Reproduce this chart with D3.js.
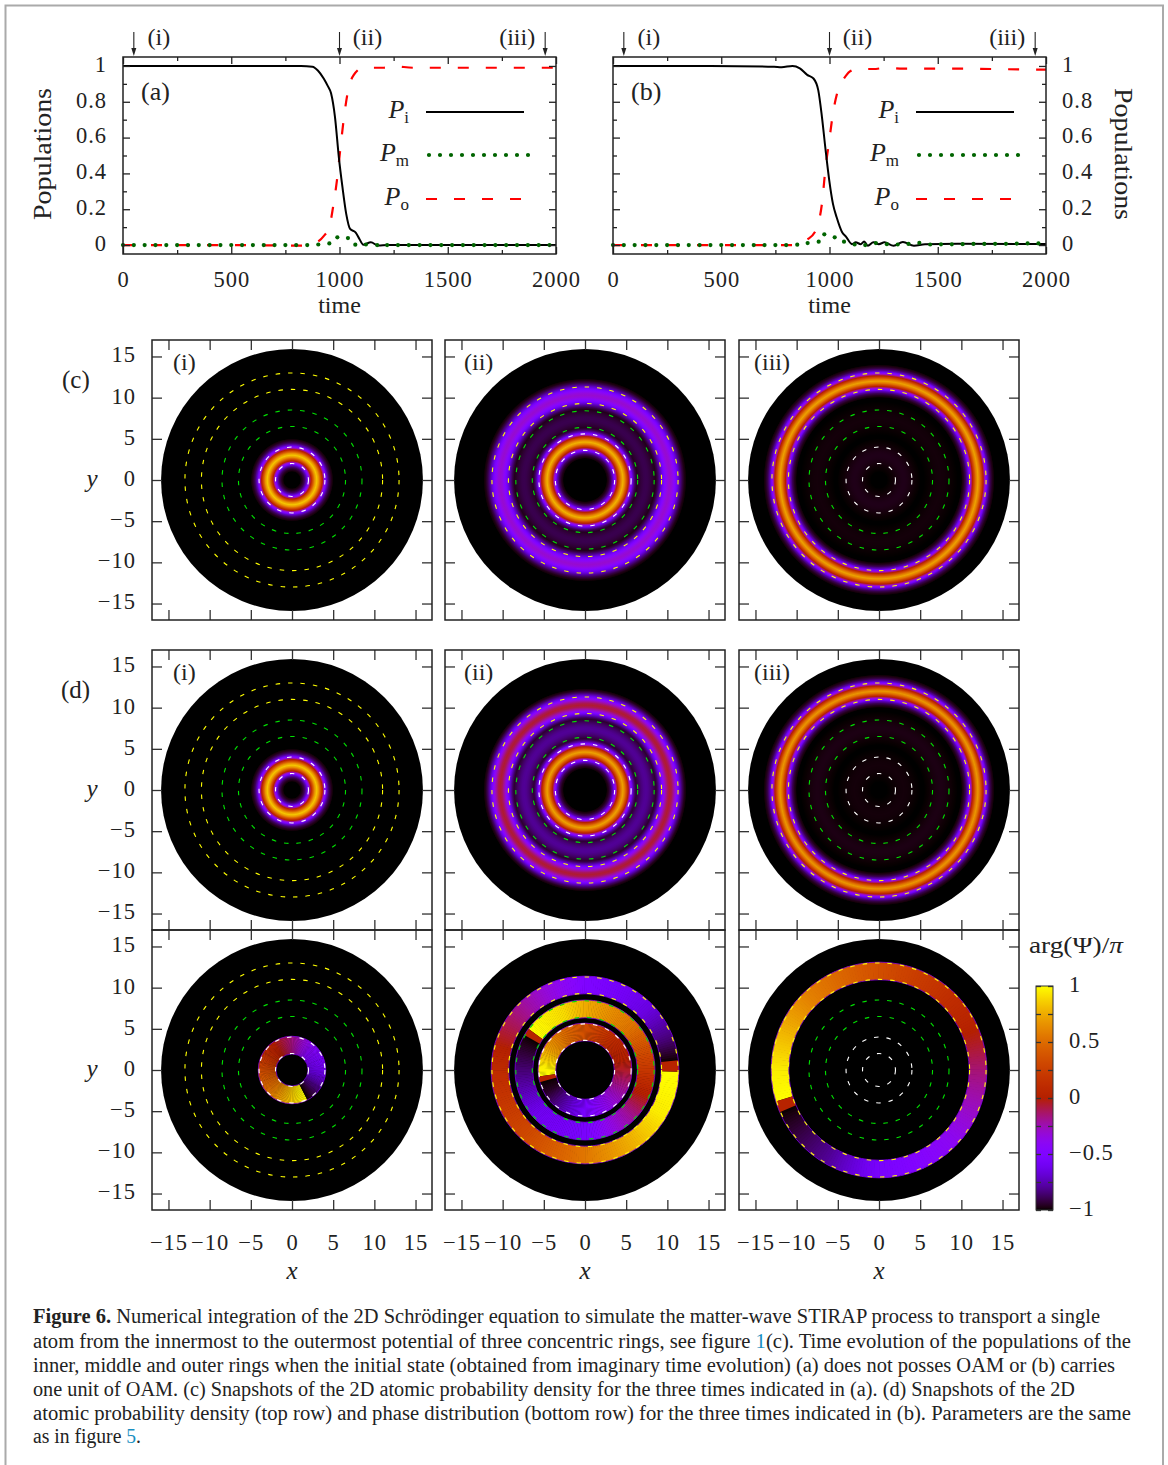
<!DOCTYPE html>
<html>
<head>
<meta charset="utf-8">
<script src="https://cdn.jsdelivr.net/npm/d3@7"></script>
<style>
  body { margin: 0; background: #fff; }
  text { font-family: "Liberation Serif", serif; fill: #222; }
</style>
</head>
<body>
<div id="fig"></div>
<script>
// populations (a) and (b)
const tPiA = [0, 500, 822, 875, 900, 927, 945, 961, 979, 997, 1014, 1031, 1049, 1075, 1092, 1110, 1145, 1179, 1223, 1500, 2000];
const piA = [1, 1, 1, .996, .975, .93, .89, .847, .716, .49, .32, .174, .09, .07, .034, .002, .015, -.003, 0, 0, 0];
const tPoA = [0, 500, 822, 875, 927, 953, 970, 988, 1005, 1023, 1040, 1066, 1110, 1205, 1249, 1345, 2000];
const poA = [0, 0, -.003, .005, .05, .1, .21, .36, .55, .735, .865, .95, .99, .99, .998, .99, .99];
const tPmA = [0, 50, 100, 150, 200, 250, 300, 350, 400, 450, 500, 550, 600, 650, 700, 750, 800, 851, 902, 953, 990, 1039, 1073, 1122, 1174, 1220, 1270, 1320, 1370, 1420, 1470, 1520, 1570, 1620, 1670, 1720, 1770, 1820, 1870, 1920, 1970];
const pmA = [0, 0, 0, 0, 0, 0, 0, 0, 0, 0, 0, 0, 0, 0, 0, 0, 0, 0, .003, .009, .043, .039, .002, .003, 0, 0, 0, 0, 0, 0, 0, 0, 0, 0, 0, 0, 0, 0, 0, 0, 0];

const tPiB = [0, 450, 744, 779, 829, 863, 897, 926, 948, 965, 982, 999, 1016, 1033, 1059, 1076, 1104, 1121, 1144, 1160, 1177, 1203, 1228, 1254, 1296, 1339, 1390, 1441, 1593, 2000];
const piB = [1, 1, .995, .993, 1, .987, .95, .93, .865, .716, .53, .36, .23, .155, .07, .047, .005, .015, .005, .02, -.004, .015, .005, .015, -.004, .017, -.004, .004, .007, .006];
const tPoB = [0, 500, 846, 897, 931, 948, 965, 982, 999, 1016, 1042, 1067, 1093, 1127, 1203, 1262, 1339, 1593, 1959, 2000];
const poB = [0, 0, 0, .03, .07, .118, .23, .435, .585, .735, .875, .93, .968, .983, .983, .99, .985, .985, .98, .98];
const tPmB = [0, 50, 100, 150, 200, 250, 300, 350, 400, 450, 500, 550, 600, 650, 700, 750, 800, 851, 899, 950, 976, 1024, 1067, 1116, 1165, 1214, 1265, 1315, 1365, 1415, 1465, 1515, 1565, 1615, 1665, 1715, 1765, 1815, 1865, 1915, 1965];
const pmB = [0, 0, 0, 0, 0, 0, 0, 0, 0, 0, 0, 0, 0, 0, 0, 0, 0, .002, .011, .019, .06, .043, .019, .003, 0, .011, .005, .003, .006, .012, .003, .004, .004, .005, .006, .006, .007, .007, .008, .009, .009];

const xTicksTime = [0, 500, 1000, 1500, 2000];
const xMinorTime = [250, 750, 1250, 1750];
const yTicksPop = [0, .2, .4, .6, .8, 1];
const yMinorPop = [.1, .3, .5, .7, .9];
const arrowTimes = [50, 1000, 1950];

// the three rings move during the process: [inner, outer] radius per column
const ringEdgesCol1 = [[2, 4], [6.5, 8.5], [11, 13]];
const ringEdgesCol2 = [[3.6, 5.6], [6.4, 8.4], [9.3, 11.3]];
const ringEdgesCol3 = [[2, 4], [6.5, 8.5], [11, 13]];
const ringColours = ['#ffffff', '#00e000', '#ffff00'];
const heatTicks = [-15, -10, -5, 0, 5, 10, 15];

// density cross section of one ring: distance from ring centre -> fraction of the peak
const shapeOffsets = [0, .25, .5, .75, 1, 1.25, 1.5, 1.75, 2];
const narrowShape = [1, .9, .72, .5, .29, .14, .06, .02, 0];
const wideShape = [1, .95, .82, .65, .45, .27, .13, .04, 0];

// peak palette position of each ring [inner, middle, outer], per column
const peaksC = [[.92, 0, 0], [.89, .05, .35], [.015, .006, .86]];
const peaksD = [[.92, 0, 0], [.86, .1, .47], [.006, .012, .84]];

// phase along the rings, [degrees clockwise from the top, arg/pi], null = ring is empty
const phaseCol1 = [
  [[153, 1], [180, .85], [225, .55], [270, .33], [315, .05], [360, -.17], [405, -.45], [450, -.6], [480, -.8], [513, -1]],
  null, null];
const phaseCol2 = [
  [[262, 1], [275, .95], [300, .7], [330, .5], [360, .35], [405, .1], [450, -.05], [495, -.3], [540, -.55], [570, -.75], [600, -.95], [615, -1]],
  [[306, 1], [340, .9], [360, .75], [405, .55], [450, .2], [495, -.2], [540, -.55], [585, -.6], [630, -.85], [660, -1]],
  [[91, 1], [120, .95], [135, .85], [180, .55], [225, .3], [270, .1], [300, -.1], [315, -.2], [360, -.5], [405, -.65], [430, -.85], [444, -1]]];
const phaseCol3 = [
  null, null,
  [[253, 1], [270, .95], [315, .6], [360, .35], [420, .05], [450, -.15], [495, -.4], [540, -.55], [570, -.8], [607, -1]]];
// the small wrong-coloured piece each ring has at its branch cut [from, to, phase]
const cutCol2 = [[255, 262, .03], [300, 306, .03], [84, 91, .03]];
const cutCol3 = [null, null, [247, 253, .03]];

const cbTicks = [1, .5, 0, -.5, -1];
const cbMinor = [.75, .25, -.25, -.75];

const captionLines = [
  ['Numerical integration of the 2D Schrödinger equation to simulate the matter-wave STIRAP process to transport a single'],
  ['atom from the innermost to the outermost potential of three concentric rings, see figure ', '1', '(c). Time evolution of the populations of the'],
  ['inner, middle and outer rings when the initial state (obtained from imaginary time evolution) (a) does not posses OAM or (b) carries'],
  ['one unit of OAM. (c) Snapshots of the 2D atomic probability density for the three times indicated in (a). (d) Snapshots of the 2D'],
  ['atomic probability density (top row) and phase distribution (bottom row) for the three times indicated in (b). Parameters are the same'],
  ['as in figure ', '5', '.']
];
const captionEnds = [1100, 1131, 1115, 1075, 1131, 141];
const captionBase = [1323, 1348, 1372, 1396, 1420, 1443];

// gnuplot's default pm3d palette (rgbformulae 7,5,15)
function gnu(v) {
  const x = Math.max(0, Math.min(1, v));
  const b = Math.max(0, Math.sin(2 * Math.PI * x));
  return d3.rgb(255 * Math.sqrt(x), 255 * x * x * x, 255 * b).formatHex();
}
const phaseColour = p => gnu((p + 1) / 2);
const minus = d => String(d).replace('-', '\u2212');

const svg = d3.select('#fig').append('svg')
  .attr('width', 1168).attr('height', 1465).style('display', 'block');
const defs = svg.append('defs');

svg.append('rect').attr('x', 5.5).attr('y', 5.5).attr('width', 1157.5).attr('height', 1480)
  .attr('fill', 'none').attr('stroke', '#aaa').attr('stroke-width', 2);

const TICK_FONT = 22.5;

function styleTicks(sel, colour) {
  sel.select('.domain').remove();
  sel.selectAll('line').attr('stroke', colour).attr('stroke-width', 1.3);
  sel.selectAll('text').style('font-size', TICK_FONT + 'px').style('letter-spacing', '1px')
    .attr('fill', '#222')
    .filter(function () { return d3.select(this).attr('dy') === '0.32em'; })
    .attr('dy', '.24em');
}

// ticks on all four sides, labels only where asked
function frame(g, x, y, w, h, opt) {
  const put = (axis, tx, ty, vals, len, labels, pad) => {
    const a = axis.tickValues(vals).tickSize(-len).tickPadding(pad || 0)
      .tickFormat(labels ? minus : '');
    g.append('g').attr('transform', `translate(${tx},${ty})`).call(a).call(styleTicks, opt.colour);
  };
  const major = opt.major, minor = opt.minor;
  put(d3.axisBottom(x), 0, h, opt.xMajor, major, opt.labelBottom, opt.padBottom);
  put(d3.axisTop(x), 0, 0, opt.xMajor, major, false);
  put(d3.axisLeft(y), 0, 0, opt.yMajor, major, opt.labelLeft, opt.padSide);
  put(d3.axisRight(y), w, 0, opt.yMajor, major, opt.labelRight, opt.padSide);
  if (opt.xMinor) {
    put(d3.axisBottom(x), 0, h, opt.xMinor, minor, false);
    put(d3.axisTop(x), 0, 0, opt.xMinor, minor, false);
    put(d3.axisLeft(y), 0, 0, opt.yMinor, minor, false);
    put(d3.axisRight(y), w, 0, opt.yMinor, minor, false);
  }
  g.append('rect').attr('width', w).attr('height', h).attr('fill', 'none')
    .attr('stroke', '#222').attr('stroke-width', 1.5);
}

function popPanel(px, label, side, data) {
  const w = 433, h = 197, top = 57;
  const x = d3.scaleLinear([0, 2000], [0, w]);
  const y = d3.scaleLinear([-.05, 1.05], [h, 0]);
  const g = svg.append('g').attr('transform', `translate(${px},${top})`);

  const line = d3.line().x(d => x(d[0])).y(d => y(d[1])).curve(d3.curveMonotoneX);
  g.append('path').attr('d', line(d3.zip(data.tPo, data.po))).attr('fill', 'none')
    .attr('stroke', '#ff0000').attr('stroke-width', 2.2).attr('stroke-dasharray', '11,17');
  g.append('path').attr('d', line(d3.zip(data.tPi, data.pi))).attr('fill', 'none')
    .attr('stroke', '#000').attr('stroke-width', 2);
  g.selectAll('.dot').data(d3.zip(data.tPm, data.pm)).join('circle').attr('class', 'dot')
    .attr('cx', d => x(d[0])).attr('cy', d => y(d[1])).attr('r', 2.1).attr('fill', '#006400');

  frame(g, x, y, w, h, {
    xMajor: xTicksTime, xMinor: xMinorTime, yMajor: yTicksPop, yMinor: yMinorPop,
    major: 7, minor: 4, colour: '#222',
    labelBottom: true, padBottom: 17, labelLeft: side === 'left', labelRight: side === 'right', padSide: 16
  });

  // arrows and (i) (ii) (iii) above the panel
  const arrowLabels = ['(i)', '(ii)', '(iii)'];
  const arrowOffsets = [25, 28, -28];
  arrowTimes.forEach((t, i) => {
    g.append('line').attr('x1', x(t)).attr('x2', x(t)).attr('y1', -25).attr('y2', -6)
      .attr('stroke', '#222').attr('stroke-width', 1.1);
    g.append('path').attr('d', `M${x(t) - 2.5},-9L${x(t)},-1L${x(t) + 2.5},-9Z`).attr('fill', '#222');
    g.append('text').attr('x', x(t) + arrowOffsets[i]).attr('y', -12).attr('text-anchor', 'middle')
      .style('font-size', '24px').text(arrowLabels[i]);
  });

  g.append('text').attr('x', 18).attr('y', 43).style('font-size', '26px').text(label);
  g.append('text').attr('x', w / 2).attr('y', 256).attr('text-anchor', 'middle')
    .style('font-size', '24px').text('time');

  // legend
  const names = ['i', 'm', 'o'];
  const rowY = [55, 98, 142];
  names.forEach((n, i) => {
    const t = g.append('text').attr('x', 286).attr('y', rowY[i] + 6).attr('text-anchor', 'end')
      .style('font-size', '26px');
    t.append('tspan').style('font-style', 'italic').text('P');
    t.append('tspan').attr('dy', 5).style('font-size', '17px').text(n);
  });
  g.append('line').attr('x1', 303).attr('x2', 401).attr('y1', rowY[0]).attr('y2', rowY[0])
    .attr('stroke', '#000').attr('stroke-width', 2);
  g.append('line').attr('x1', 306).attr('x2', 406).attr('y1', rowY[1]).attr('y2', rowY[1])
    .attr('stroke', '#006400').attr('stroke-width', 4.2).attr('stroke-linecap', 'round')
    .attr('stroke-dasharray', '0,11');
  g.append('line').attr('x1', 303).attr('x2', 398).attr('y1', rowY[2]).attr('y2', rowY[2])
    .attr('stroke', '#ff0000').attr('stroke-width', 2.2).attr('stroke-dasharray', '11,17');

  // axis title
  const lx = side === 'left' ? 51 - px : 1115 - px;
  const rot = side === 'left' ? -90 : 90;
  g.append('text').attr('transform', `translate(${lx},${97}) rotate(${rot})`)
    .attr('text-anchor', 'middle').attr('textLength', 132).attr('lengthAdjust', 'spacingAndGlyphs')
    .style('font-size', '25px').text('Populations');
}

const SIZE = 280;
const DISC = 15.9;
const hx = d3.scaleLinear([-17, 17], [0, SIZE]);
const hy = d3.scaleLinear([-17, 17], [SIZE, 0]);
const rad = r => hx(r) - hx(0);

let gradId = 0;
function discGradient(peaks, rings) {
  const id = 'dens' + (gradId++);
  const narrow = d3.scaleLinear(shapeOffsets, narrowShape).clamp(true);
  const wide = d3.scaleLinear(shapeOffsets, wideShape).clamp(true);
  const gr = defs.append('radialGradient').attr('id', id);
  d3.range(0, DISC + .01, .05).forEach(r => {
    let v = 0;
    peaks.forEach((p, i) => {
      const s = p < .5 ? wide : narrow;
      v = Math.max(v, p * s(Math.abs(r - d3.mean(rings[i]))));
    });
    gr.append('stop').attr('offset', r / DISC).attr('stop-color', gnu(v));
  });
  return id;
}

function heatPanel(px, py, opt) {
  const g = svg.append('g').attr('transform', `translate(${px},${py})`);
  const c = g.append('g').attr('transform', `translate(${hx(0)},${hy(0)})`);

  if (opt.peaks) {
    c.append('circle').attr('r', rad(DISC)).attr('fill', `url(#${discGradient(opt.peaks, opt.rings)})`);
  } else {
    c.append('circle').attr('r', rad(DISC)).attr('fill', '#000');
    const arc = d3.arc();
    opt.phase.forEach((stops, i) => {
      if (!stops) return;
      const [r0, r1] = opt.rings[i];
      const angles = stops.map(s => s[0]);
      const scale = d3.scaleLinear(angles, stops.map(s => s[1]));
      const step = 1.5;
      c.append('g').selectAll('path')
        .data(d3.range(angles[0], angles[angles.length - 1], step))
        .join('path')
        .attr('d', a => arc({
          innerRadius: rad(r0 - .05), outerRadius: rad(r1 + .1),
          startAngle: a * Math.PI / 180,
          endAngle: Math.min(a + step + .4, angles[angles.length - 1]) * Math.PI / 180
        }))
        .attr('fill', a => phaseColour(scale(a + step / 2)));
      const cut = opt.cuts && opt.cuts[i];
      if (cut) {
        c.append('path').attr('d', arc({
          innerRadius: rad(r0 - .05), outerRadius: rad(r1 + .1),
          startAngle: cut[0] * Math.PI / 180, endAngle: cut[1] * Math.PI / 180
        })).attr('fill', phaseColour(cut[2]));
      }
      [r0 - .05, r1 + .1].forEach(r => {
        c.append('circle').attr('r', rad(r)).attr('fill', 'none')
          .attr('stroke', '#7a00e0').attr('stroke-width', 1).attr('stroke-opacity', .75);
      });
    });
  }

  // the dashed potentials on top
  opt.rings.forEach((edges, i) => {
    edges.forEach(r => {
      c.append('circle').attr('r', rad(r)).attr('fill', 'none')
        .attr('stroke', ringColours[i]).attr('stroke-width', 1.1)
        .attr('stroke-dasharray', '4.5,8');
    });
  });

  frame(g, hx, hy, SIZE, SIZE, {
    xMajor: heatTicks, yMajor: heatTicks, major: 10, colour: '#333',
    labelBottom: opt.labelX, padBottom: 24, labelLeft: opt.labelY, padSide: 16
  });

  if (opt.tag) {
    g.append('text').attr('x', opt.tagX).attr('y', 30).style('font-size', '24px').text(opt.tag);
  }
  if (opt.labelY) {
    g.append('text').attr('x', -60).attr('y', hy(0) + 7).attr('text-anchor', 'middle')
      .style('font-size', '25px').style('font-style', 'italic').text('y');
  }
  if (opt.labelX) {
    g.append('text').attr('x', hx(0)).attr('y', SIZE + 69).attr('text-anchor', 'middle')
      .style('font-size', '25px').style('font-style', 'italic').text('x');
  }
}

popPanel(123, '(a)', 'left', { tPi: tPiA, pi: piA, tPo: tPoA, po: poA, tPm: tPmA, pm: pmA });
popPanel(613, '(b)', 'right', { tPi: tPiB, pi: piB, tPo: tPoB, po: poB, tPm: tPmB, pm: pmB });

const colX = [152, 445, 739];
const tags = ['(i)', '(ii)', '(iii)'];
const tagX = [21, 19, 15];
const rings = [ringEdgesCol1, ringEdgesCol2, ringEdgesCol3];
const phases = [phaseCol1, phaseCol2, phaseCol3];
const cuts = [null, cutCol2, cutCol3];

colX.forEach((px, i) => {
  heatPanel(px, 340, { peaks: peaksC[i], rings: rings[i], tag: tags[i], tagX: tagX[i], labelY: i === 0 });
  heatPanel(px, 650, { peaks: peaksD[i], rings: rings[i], tag: tags[i], tagX: tagX[i], labelY: i === 0 });
  heatPanel(px, 930, { phase: phases[i], rings: rings[i], cuts: cuts[i], labelY: i === 0, labelX: true });
});

svg.append('text').attr('x', 62).attr('y', 388).style('font-size', '25px').text('(c)');
svg.append('text').attr('x', 61).attr('y', 698).style('font-size', '25px').text('(d)');

// colour bar
const cbY = d3.scaleLinear([-1, 1], [224, 0]);
const cb = svg.append('g').attr('transform', 'translate(1036,986)');
const cbGrad = defs.append('linearGradient').attr('id', 'cbar')
  .attr('x1', 0).attr('x2', 0).attr('y1', 1).attr('y2', 0);
d3.range(0, 1.001, .01).forEach(v => {
  cbGrad.append('stop').attr('offset', v).attr('stop-color', gnu(v));
});
cb.append('rect').attr('width', 17).attr('height', 224).attr('fill', 'url(#cbar)');
const cbAll = cbTicks.concat(cbMinor);
cb.append('g').call(d3.axisRight(cbY).tickValues(cbAll).tickSize(5).tickFormat('')).call(styleTicks, '#333');
cb.append('g').attr('transform', 'translate(17,0)')
  .call(d3.axisLeft(cbY).tickValues(cbAll).tickSize(5).tickFormat('')).call(styleTicks, '#333');
cb.append('g').attr('transform', 'translate(17,0)')
  .call(d3.axisRight(cbY).tickValues(cbTicks).tickSize(0).tickPadding(16).tickFormat(minus)).call(styleTicks, '#333');
cb.append('rect').attr('width', 17).attr('height', 224).attr('fill', 'none')
  .attr('stroke', '#333').attr('stroke-width', 1);
const cbTitle = svg.append('text').attr('x', 1029).attr('y', 953).attr('textLength', 94)
  .attr('lengthAdjust', 'spacingAndGlyphs').style('font-size', '23px');
cbTitle.append('tspan').text('arg(\u03A8)/');
cbTitle.append('tspan').style('font-style', 'italic').text('\u03C0');

// caption
captionLines.forEach((parts, i) => {
  const t = svg.append('text').attr('x', 33).attr('y', captionBase[i])
    .attr('textLength', captionEnds[i] - 33).attr('lengthAdjust', 'spacingAndGlyphs')
    .style('font-size', '20px');
  if (i === 0) {
    t.append('tspan').style('font-weight', 'bold').text('Figure 6. ');
  }
  parts.forEach((p, k) => {
    const s = t.append('tspan').text(p);
    if (k === 1) s.style('fill', '#1a8fc1');
  });
});
</script>
</body>
</html>
